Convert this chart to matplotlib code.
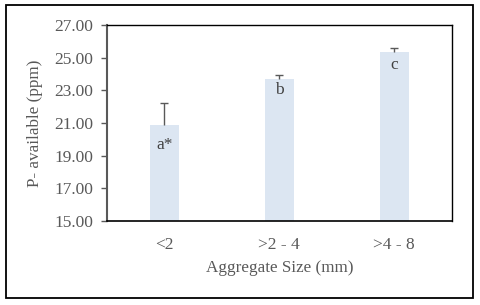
import matplotlib
matplotlib.use("Agg")
import matplotlib.pyplot as plt
from matplotlib.patches import Rectangle

categories = ["<2", ">2 - 4", ">4 - 8"]
values = [20.87, 23.71, 25.36]
errors = [1.36, 0.22, 0.23]
letters = ["a*", "b", "c"]
yticks = [15.0, 17.0, 19.0, 21.0, 23.0, 25.0, 27.0]

plt.rcParams['font.family'] = ['Liberation Serif', 'DejaVu Serif']
txt = '#595959'

fig = plt.figure(figsize=(4.8, 3.05), dpi=100)
ax = fig.add_axes([107/480, 1-220.7/305, (451.7-107)/480, (220.7-25.3)/305])

x = list(range(len(categories)))
ax.bar(x, values, width=0.25, color='#DCE6F2', zorder=2)
eb = ax.errorbar(x, values, yerr=[[0]*len(errors), errors], fmt='none',
                 ecolor='#595959', elinewidth=1.0, capsize=3.2, capthick=1.0, zorder=3)
eb[1][0].set_visible(False)

offsets = [-20, -11, -13]
for xi, v, lab, off in zip(x, values, letters, offsets):
    ax.annotate(lab, (xi, v), xytext=(0, off), textcoords='offset pixels',
                ha='center', va='center', fontsize=12.5, color='#404040')

ax.set_xlim(-0.5, 2.5)
ax.set_ylim(15, 27)
ax.set_yticks(yticks)
ax.set_yticklabels([f"{t:.2f}" for t in yticks])
ax.set_xticks(x)
ax.set_xticklabels(categories)
ax.tick_params(axis='x', length=0, pad=12, labelsize=12.5, labelcolor=txt)
ax.tick_params(axis='y', length=4, width=1, color='#595959', pad=6, labelsize=12.5, labelcolor=txt)
for s in ['top', 'right']:
    ax.spines[s].set_color('black')
    ax.spines[s].set_linewidth(1.0)
ax.spines['left'].set_color('#595959')
ax.spines['left'].set_linewidth(1.5)
ax.spines['bottom'].set_color('black')
ax.spines['bottom'].set_linewidth(1.2)

ax.set_xlabel("Aggregate Size (mm)", fontsize=12.3, color=txt, labelpad=5)
ax.set_ylabel("P- available (ppm)", fontsize=12.3, color=txt, labelpad=8)

fig.patches.append(Rectangle((6/480, 1-298/305), (473-6)/480, (298-5)/305,
                             transform=fig.transFigure, fill=False,
                             edgecolor='black', linewidth=1.3))

fig.savefig("out.png", dpi=100)
